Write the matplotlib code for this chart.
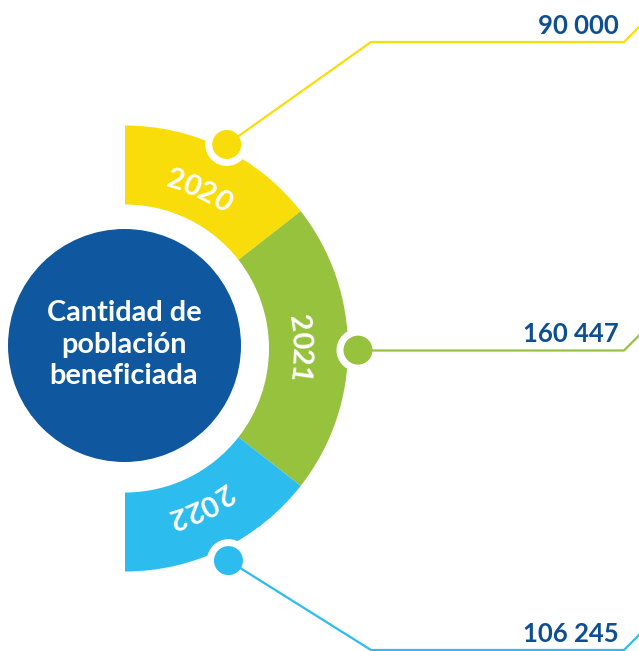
import numpy as np
import matplotlib
matplotlib.use("Agg")
import matplotlib.pyplot as plt
from matplotlib.patches import Wedge, Circle

# ---- data ----
years = ["2020", "2021", "2022"]
values = [90000, 160447, 106245]
seg_colors = ["#F9DD0B", "#96C23E", "#2CBDEE"]
center_label = "Cantidad de\npoblación\nbeneficiada"

# ---- layout (pixel space, y down) ----
W, H = 639, 651
cx, cy = 125, 348.5
ccx, ccy = 124.5, 345.5
r_in, r_out = 144, 223
seg_bounds = [(38, 90), (-38, 38), (-90, -38)]      # screen angles (deg, ccw)
dot_angles = [63.5, -0.4, -64.0]
dot_radii = [228, 233, 236]
text_angles = [65.0, 0.0, -64.5]
text_r = 175
line_y = [42, 350.5, 650]
elbow_x = [371, 371, 371]
end_x = 624
label_x = 619
circle_color = "#0F579E"
value_color = "#0E4F91"

plt.rcParams["font.family"] = ["Lato", "DejaVu Sans"]

fig = plt.figure(figsize=(W / 100, H / 100), dpi=100)
ax = fig.add_axes([0, 0, 1, 1])
ax.set_xlim(0, W)
ax.set_ylim(H, 0)
ax.set_aspect("equal")
ax.axis("off")


def pt(a_deg, r):
    a = np.deg2rad(a_deg)
    return cx + r * np.cos(a), cy - r * np.sin(a)


# ring segments
for (a1, a2), col in zip(seg_bounds, seg_colors):
    ax.add_patch(Wedge((cx, cy), r_out, -a2, -a1, width=r_out - r_in,
                       facecolor=col, edgecolor="none", zorder=2))

# central circle
ax.add_patch(Circle((ccx, ccy), 116.5, facecolor=circle_color, edgecolor="none", zorder=3))
ax.text(ccx - 0.5, ccy - 1, center_label, color="white", fontsize=20.8, fontweight="bold",
        ha="center", va="center", linespacing=1.27, zorder=4)

# callouts
for i, (yr, val, col) in enumerate(zip(years, values, seg_colors)):
    dx, dy = pt(dot_angles[i], dot_radii[i])
    ax.add_patch(Circle((dx, dy), 21.5, facecolor="white", edgecolor="none", zorder=5))
    ax.add_patch(Circle((dx, dy), 14.5, facecolor=col, edgecolor="none", zorder=7))
    ly = line_y[i]
    if i == 1:
        xs = [dx, end_x, end_x + 18]
        ys = [ly, ly, ly - 18]
    else:
        xs = [dx, elbow_x[i], end_x, end_x + 18]
        ys = [dy, ly, ly, ly - 18]
    ax.plot(xs, ys, color=col, lw=1.6, zorder=6, solid_capstyle="butt")
    ax.text(label_x, ly - 8, f"{val:,}".replace(",", " "), color=value_color,
            fontsize=18.5, fontweight="bold", ha="right", va="baseline", zorder=8)

    # curved year label, reading clockwise
    step = np.rad2deg(17.0 / text_r)
    n = len(yr)
    for k, ch in enumerate(yr):
        a = text_angles[i] + (n - 1) / 2 * step - k * step
        x, y = pt(a, text_r)
        ax.text(x, y, ch, color="white", fontsize=21, fontweight="bold",
                ha="center", va="center", rotation=a - 90,
                rotation_mode="anchor", zorder=8)

fig.savefig("out.png", dpi=100)
